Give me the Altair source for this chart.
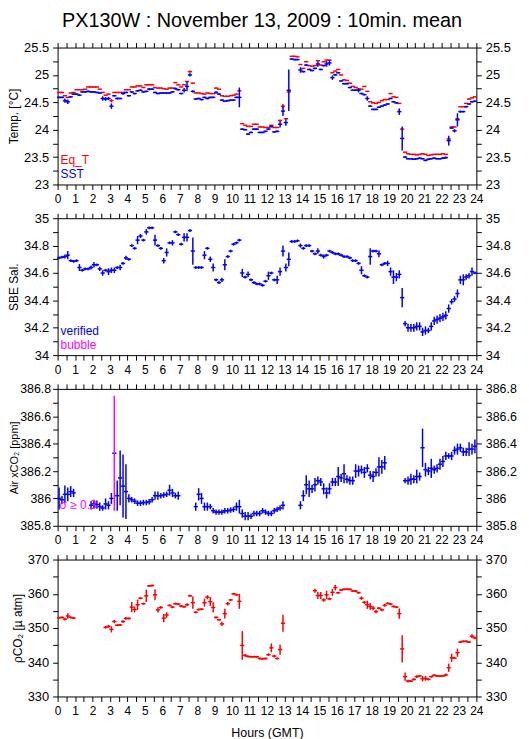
import altair as alt
import pandas as pd

FONT = "Liberation Sans"
TITLE = "PX130W : November 13, 2009 : 10min. mean"

# ---- 10-minute slots (144 per day), one row = 2 hours ----
SST = [
 24.59, 24.59, 24.53, 24.51, 24.60, 24.65, 24.65, 24.63, 24.69, 24.69, 24.70, 24.69,
 24.69, 24.68, 24.67, 24.57, 24.56, 24.57, 24.43, 24.62, 24.57, 24.57, 24.66, 24.68,
 24.62, 24.69, 24.66, 24.71, 24.72, 24.69, 24.70, 24.74, 24.74, 24.68, 24.66, 24.67,
 24.67, 24.67, 24.67, 24.69, 24.75, 24.73, 24.66, 24.72, 24.79, 25.00, 24.70, 24.56,
 24.57, 24.55, 24.59, 24.57, 24.59, 24.59, 24.68, 24.65, 24.54, 24.52, 24.53, 24.54,
 24.54, 24.59, 24.59, 24.01, 24.00, 23.92, 23.95, 24.01, 24.01, 23.95, 23.95, 23.97,
 24.01, 24.06, 23.96, 23.97, 24.10, 24.34, 24.13, 24.72, 25.29, 25.28, 25.28, 25.09,
 25.06, 25.18, 25.10, 25.08, 25.12, 25.20, 25.10, 25.17, 25.20, 25.22, 24.95, 25.00,
 25.04, 24.89, 24.84, 24.84, 24.77, 24.72, 24.72, 24.72, 24.66, 24.64, 24.57, 24.43,
 24.37, 24.37, 24.41, 24.43, 24.45, 24.47, 24.57, 24.51, 24.49, 24.33, 23.84, 23.50,
 23.47, 23.47, 23.46, 23.47, 23.48, 23.47, 23.44, 23.46, 23.47, 23.48, 23.47, 23.47,
 23.48, 23.49, 23.80, 24.03, 23.98, 24.18, 24.33, 24.33, 24.42, 24.47, 24.51, 24.52,
]
SST_ERR = [
 .015, .015, .04, .04, .015, .015, .015, .015, .015, .015, .015, .015,
 .015, .015, .015, .04, .035, .03, .05, .015, .02, .015, .02, .015,
 .015, .015, .015, .015, .015, .015, .015, .02, .015, .015, .015, .015,
 .015, .015, .015, .015, .02, .015, .015, .04, .09, .03, .02, .015,
 .015, .015, .015, .015, .015, .015, .02, .015, .015, .015, .015, .015,
 .015, .015, .18, .015, .015, .015, .015, .015, .015, .015, .015, .015,
 .015, .02, .015, .015, .06, .09, .06, .38, .015, .015, .015, .05,
 .015, .015, .015, .015, .015, .05, .015, .015, .05, .05, .04, .015,
 .015, .015, .015, .015, .015, .015, .015, .04, .015, .015, .04, .015,
 .015, .015, .015, .015, .015, .015, .015, .015, .015, .06, .22, .015,
 .015, .015, .015, .015, .015, .015, .015, .015, .015, .015, .015, .015,
 .015, .02, .09, .015, .03, .12, .02, .015, .015, .015, .015, .015,
]
EQT = [
 24.68, 24.68, 24.62, 24.59, 24.67, 24.68, 24.73, 24.73, 24.73, 24.74, 24.78, 24.78,
 24.78, 24.78, 24.74, 24.68, 24.63, 24.65, 24.53, 24.68, 24.68, 24.68, 24.68, 24.73,
 24.73, 24.78, 24.78, 24.80, 24.80, 24.77, 24.82, 24.82, 24.82, 24.77, 24.76, 24.76,
 24.75, 24.74, 24.76, 24.76, 24.86, 24.82, 24.78, 24.82, 24.88, 25.06, 24.85, 24.67,
 24.67, 24.66, 24.65, 24.67, 24.66, 24.66, 24.76, 24.74, 24.62, 24.61, 24.61, 24.62,
 24.63, 24.65, 24.71, 24.11, 24.08, 24.06, 24.06, 24.10, 24.10, 24.05, 24.05, 24.04,
 24.04, 24.08, 24.04, 24.04, 24.17, 24.43, 24.20, 24.69, 25.34, 25.34, 25.33, 25.19,
 25.12, 25.24, 25.17, 25.16, 25.17, 25.26, 25.18, 25.24, 25.27, 25.27, 25.04, 25.07,
 25.10, 25.00, 24.91, 24.90, 24.85, 24.79, 24.77, 24.74, 24.74, 24.79, 24.70, 24.51,
 24.49, 24.48, 24.50, 24.53, 24.55, 24.55, 24.66, 24.60, 24.59, 24.48, 24.01, 23.59,
 23.56, 23.55, 23.55, 23.54, 23.55, 23.56, 23.55, 23.53, 23.54, 23.55, 23.55, 23.55,
 23.56, 23.55, 23.83, 24.05, 24.05, 24.20, 24.42, 24.42, 24.48, 24.56, 24.58, 24.60,
]
EQT_ERR = [
 .005, .005, .005, .005, .005, .005, .005, .005, .005, .005, .005, .005,
 .005, .005, .005, .005, .005, .005, .03, .005, .005, .005, .005, .005,
 .005, .005, .005, .005, .005, .005, .005, .005, .005, .005, .005, .005,
 .005, .005, .005, .005, .005, .005, .005, .005, .005, .02, .005, .005,
 .005, .005, .005, .005, .005, .005, .005, .005, .005, .005, .005, .005,
 .005, .005, .005, .005, .005, .005, .005, .005, .005, .005, .005, .005,
 .005, .005, .005, .005, .005, .04, .005, .01, .005, .005, .005, .005,
 .005, .005, .005, .005, .005, .005, .005, .005, .005, .005, .005, .005,
 .005, .005, .005, .005, .005, .005, .005, .005, .005, .005, .005, .005,
 .005, .005, .005, .005, .005, .005, .005, .005, .005, .005, .02, .005,
 .005, .005, .005, .005, .005, .005, .005, .005, .005, .005, .005, .005,
 .005, .005, .005, .005, .005, .005, .005, .005, .005, .005, .005, .005,
]
SAL = [
 34.71, 34.715, 34.72, 34.73, 34.69, 34.685, 34.69, 34.64, 34.62, 34.63, 34.63, 34.64,
 34.66, 34.66, 34.63, 34.60, 34.62, 34.61, 34.62, 34.62, 34.64, 34.64, 34.67, 34.71,
 34.70, 34.80, 34.78, 34.84, 34.87, 34.84, 34.90, 34.93, 34.93, 34.84, 34.80, 34.78,
 34.69, 34.75, 34.82, 34.82, 34.90, 34.88, 34.81, 34.86, 34.86, 34.91, 34.76, 34.64,
 34.64, 34.64, 34.73, 34.78, 34.70, 34.64, 34.55, 34.53, 34.55, 34.66, 34.72, 34.76,
 34.81, 34.82, 34.84, 34.60, 34.57, 34.59, 34.55, 34.53, 34.52, 34.52, 34.51, 34.54,
 34.58, 34.60, 34.55, 34.55, 34.61, 34.76, 34.64, 34.70, 34.83, 34.83, 34.835, 34.80,
 34.78, 34.80, 34.80, 34.76, 34.74, 34.76, 34.73, 34.72, 34.73, 34.76, 34.75, 34.74,
 34.74, 34.73, 34.72, 34.72, 34.71, 34.69, 34.69, 34.67, 34.62, 34.58, 34.57, 34.72,
 34.76, 34.76, 34.74, 34.66, 34.67, 34.67, 34.61, 34.57, 34.57, 34.59, 34.42, 34.23,
 34.20, 34.20, 34.20, 34.21, 34.21, 34.17, 34.18, 34.18, 34.21, 34.25, 34.26, 34.27,
 34.28, 34.29, 34.34, 34.39, 34.41, 34.45, 34.55, 34.55, 34.57, 34.58, 34.61, 34.60,
]
SAL_ERR = [
 .01, .01, .015, .03, .01, .01, .01, .025, .01, .01, .01, .015,
 .02, .01, .015, .02, .01, .025, .02, .02, .01, .02, .01, .015,
 .01, .01, .01, .03, .015, .01, .02, .01, .01, .04, .01, .01,
 .02, .03, .01, .02, .01, .01, .01, .03, .03, .01, .10, .01,
 .01, .01, .03, .01, .02, .03, .01, .01, .015, .04, .01, .01,
 .01, .01, .01, .03, .01, .02, .01, .01, .01, .01, .01, .01,
 .03, .01, .01, .03, .03, .04, .03, .05, .01, .01, .01, .015,
 .01, .01, .01, .01, .01, .02, .01, .015, .01, .01, .01, .01,
 .01, .01, .01, .01, .01, .01, .01, .01, .03, .01, .01, .06,
 .01, .01, .025, .01, .01, .02, .03, .05, .03, .03, .07, .02,
 .03, .03, .03, .03, .03, .03, .03, .02, .03, .03, .03, .03,
 .03, .03, .03, .02, .02, .03, .03, .04, .02, .02, .03, .01,
]
CO2A = [
 386.00, 385.99, 386.03, 386.03, 386.05, 386.04, None, None, None, None, None, 385.95,
 385.96, 385.955, 385.94, 385.93, 385.96, 385.95, 386.00, 386.33, 386.02, 386.15, 386.09, 386.05,
 386.00, 385.99, 385.98, 385.965, 385.965, 385.97, 385.97, 385.975, 385.99, 386.02, 386.02, 386.02,
 386.025, 386.03, 386.06, 386.04, 386.02, 386.02, None, None, None, None, None, 385.94,
 386.03, 386.00, 385.94, 385.94, 385.94, 385.91, 385.90, 385.90, 385.90, 385.91, 385.91, 385.915,
 385.92, 385.94, 385.94, 385.89, 385.87, 385.87, 385.87, 385.89, 385.89, 385.89, 385.91, 385.90,
 385.89, 385.89, 385.91, 385.92, 385.93, 385.95, None, None, None, None, None, 385.95,
 386.02, 386.10, 386.07, 386.07, 386.10, 386.13, 386.12, 386.07, 386.04, 386.07, 386.12, 386.12,
 386.16, 386.15, 386.18, 386.14, 386.13, 386.13, 386.20, 386.20, 386.21, 386.19, 386.22, 386.17,
 386.16, 386.19, 386.23, 386.23, 386.26, None, None, None, None, None, None, 386.13,
 386.13, 386.14, 386.14, 386.16, 386.16, 386.37, 386.21, 386.20, 386.22, 386.21, 386.22, 386.25,
 386.27, 386.31, 386.31, 386.31, 386.35, 386.36, 386.37, 386.34, 386.34, 386.36, 386.36, 386.38,
]
CO2A_ERR = [
 .08, .03, .065, .05, .04, .03, 0, 0, 0, 0, 0, .03,
 .03, .03, .03, .02, .04, .03, .04, .42, .11, .20, .23, .20,
 .03, .02, .02, .02, .02, .02, .02, .02, .02, .03, .03, .02,
 .02, .02, .04, .03, .02, .03, 0, 0, 0, 0, 0, .03,
 .045, .04, .03, .03, .02, .02, .02, .02, .02, .02, .02, .02,
 .02, .03, .05, .03, .03, .03, .02, .02, .02, .02, .02, .02,
 .02, .02, .02, .02, .02, .03, 0, 0, 0, 0, 0, .03,
 .04, .07, .06, .03, .05, .03, .03, .04, .04, .04, .03, .03,
 .07, .03, .07, .03, .03, .03, .05, .04, .03, .04, .03, .03,
 .04, .03, .07, .05, .05, 0, 0, 0, 0, 0, 0, .02,
 .03, .04, .03, .05, .03, .14, .05, .03, .07, .03, .03, .04,
 .04, .03, .02, .03, .03, .04, .03, .03, .03, .05, .04, .05,
]
PCO2 = [
 353.0, 353.1, 352.6, 353.5, 353.1, 352.9, None, None, None, None, None, None,
 None, None, None, None, 350.2, 350.5, 349.6, 351.9, 350.8, 350.9, 351.9, 352.8,
 352.8, 356.1, 355.4, 356.8, 358.7, 357.1, 359.4, 362.3, 362.4, 359.7, 355.3, 356.0,
 352.9, 353.8, 356.6, 356.1, 357.1, 357.0, 356.4, 356.2, 356.8, 359.4, 357.4, 354.6,
 355.4, 355.5, 357.4, 359.0, 357.7, 356.0, 353.1, 352.4, 351.2, 354.2, 357.1, 358.2,
 360.0, 359.7, 357.8, 344.9, 342.0, 341.7, 341.6, 341.6, 341.6, 341.1, 341.0, 341.1,
 342.2, 344.2, 341.8, 341.1, 343.7, 351.4, None, None, None, None, None, None,
 None, None, None, None, 360.9, 359.5, 359.5, 358.2, 359.7, 358.5, 360.4, 361.8,
 360.3, 361.1, 361.3, 361.3, 361.3, 360.8, 360.8, 360.3, 358.7, 357.5, 356.8, 356.3,
 355.8, 354.8, 355.8, 355.3, 356.6, 357.2, 357.0, 356.3, 356.1, 354.2, 343.9, 335.8,
 334.5, 334.5, 335.0, 335.8, 336.0, 335.2, 335.3, 335.0, 335.8, 336.2, 336.0, 336.0,
 336.0, 336.3, 338.4, 341.3, 341.2, 342.8, 345.9, 346.1, 346.1, 345.9, 347.6, 347.1,
]
PCO2_ERR = [
 .3, .3, .4, .8, .3, .3, 0, 0, 0, 0, 0, 0,
 0, 0, 0, 0, .4, .4, .9, .5, .3, .3, .4, .4,
 .3, 1.5, .8, 1.5, .3, .3, 1.8, .3, .3, 1.6, .8, .4,
 1.2, .8, .3, .3, .3, .3, .3, .3, .4, .3, 1.8, .3,
 .3, .3, 1.2, .6, 1.3, 1.5, .3, .3, .6, 1.4, .5, .3,
 .3, .3, 2.2, 4.2, .4, .3, .3, .3, .3, .3, .3, .3,
 .4, 1.3, .4, .3, 1.5, 2.5, 0, 0, 0, 0, 0, 0,
 0, 0, 0, 0, .6, 1.0, 1.0, .5, 1.2, .4, 1.0, .8,
 .3, .3, .3, .3, .3, .3, .3, .3, .5, .4, 1.2, 1.0,
 .6, .5, .3, .4, .4, .3, .3, .3, .3, 1.5, 4.0, 1.2,
 .4, .3, .3, .4, .3, .8, .7, .3, .3, .3, .3, .3,
 .3, .4, 1.2, 1.2, .3, 1.2, .3, .3, .3, .3, .6, .4,
]

HALF = 0.12          # half width of the 10-min horizontal dash (hours)
X_TICKS = [i * 0.5 for i in range(49)]


def frame(vals, errs, series, flag_name=None, flag_min=None):
    rows = []
    for k, (v, e) in enumerate(zip(vals, errs)):
        if v is None:
            continue
        t = (k + 0.5) / 6.0
        s = series
        if flag_name is not None and e >= flag_min:
            s = flag_name
        rows.append(dict(t=t, lo=t - HALF, hi=t + HALF, v=v, vlo=v - e, vhi=v + e,
                         s=s, hs=series))
    return pd.DataFrame(rows)


def label(text, color, py, px=3):
    return alt.Chart(pd.DataFrame({"txt": [text]})).mark_text(
        align="left", baseline="alphabetic", font=FONT, fontSize=12, color=color
    ).encode(x=alt.value(px), y=alt.value(py), text="txt:N")


def panel(df, domain, ticks, step, ytitle, cdom, crange, texts, xtitle=None,
          ylab_size=13, ylab_pad=4, ytitle_size=12, ytitle_pad=3):
    xs = alt.Scale(domain=[0, 24], nice=False, zero=False)
    ys = alt.Scale(domain=domain, nice=False, zero=False)
    ylab = (f"abs(datum.value/{step} - round(datum.value/{step})) < 0.001"
            " ? format(datum.value, '~g') : ''")
    xlab = "datum.value % 1 == 0 ? format(datum.value, 'd') : ''"
    cscale = alt.Scale(domain=cdom, range=crange)
    common = dict(labelOverlap=False, labelFlush=False)
    hbar = alt.Chart(df).mark_rule(strokeWidth=1.5).encode(
        x=alt.X("lo:Q", scale=xs, title=xtitle,
                axis=alt.Axis(orient="bottom", values=X_TICKS, labelExpr=xlab,
                              labelFontSize=12, titleFontSize=12.5, titlePadding=10,
                              **common)),
        x2=alt.X2("hi"),
        y=alt.Y("v:Q", scale=ys, title=ytitle,
                axis=alt.Axis(orient="left", values=ticks, labelExpr=ylab,
                              labelFontSize=ylab_size, labelPadding=ylab_pad,
                              titleFontSize=ytitle_size, titlePadding=ytitle_pad, **common)),
        color=alt.Color("hs:N", scale=cscale, legend=None),
    )
    vbar = alt.Chart(df).mark_rule(strokeWidth=1.5).encode(
        x=alt.X("t:Q", scale=xs, title=None,
                axis=alt.Axis(orient="top", values=X_TICKS, labels=False)),
        y=alt.Y("vlo:Q", scale=ys, title=None,
                axis=alt.Axis(orient="right", values=ticks, labelExpr=ylab,
                              labelFontSize=ylab_size, **common)),
        y2=alt.Y2("vhi"),
        color=alt.Color("s:N", scale=cscale, legend=None),
    )
    return alt.layer(hbar, vbar, *texts).resolve_axis(
        x="independent", y="independent"
    ).properties(width=422, height=138)


BLUE, RED, MAG = "#0000ff", "#ff0000", "#ff00ff"

df1 = pd.concat([frame(EQT, EQT_ERR, "Eq_T"), frame(SST, SST_ERR, "SST")], ignore_index=True)
df2 = frame(SAL, SAL_ERR, "verified")
df3 = frame(CO2A, CO2A_ERR, "normal", flag_name="sigma", flag_min=0.3)
df4 = frame(PCO2, PCO2_ERR, "pco2")

p1 = panel(df1, [23, 25.5], [23 + 0.25 * i for i in range(11)], 0.5, "Temp. [°C]",
           ["Eq_T", "SST"], [RED, BLUE],
           [label("Eq_T", RED, 117), label("SST", BLUE, 131)])
p2 = panel(df2, [34, 35], [round(34 + 0.1 * i, 2) for i in range(11)], 0.2, "SBE Sal.",
           ["verified", "bubble"], [BLUE, MAG],
           [label("verified", BLUE, 118), label("bubble", MAG, 132)])
p3 = panel(df3, [385.8, 386.8], [round(385.8 + 0.1 * i, 2) for i in range(11)], 0.2,
           "Air xCO₂ [ppm]", ["normal", "sigma"], [BLUE, MAG],
           [label("σ ≥ 0.3", MAG, 121, px=2)],
           ylab_size=12.5, ylab_pad=2, ytitle_size=11, ytitle_pad=0)
p4 = panel(df4, [330, 370], [330 + 5 * i for i in range(9)], 10, "ρCO₂ [µ atm]",
           ["pco2"], [RED], [], xtitle="Hours (GMT)")

chart = alt.vconcat(p1, p2, p3, p4, spacing=34, bounds="flush").resolve_scale(
    color="independent"
).properties(
    title=alt.TitleParams(TITLE, font=FONT, fontSize=20, fontWeight="normal",
                          color="black", anchor="middle", offset=11),
    padding={"left": 50, "top": 37, "right": 45, "bottom": 694},
    autosize=alt.AutoSizeParams(type="none"),
).configure_view(stroke=None).configure_axis(
    labelFont=FONT, titleFont=FONT, labelFontSize=13, titleFontSize=12,
    titleFontWeight="normal", labelColor="black", titleColor="black",
    domainColor="black", tickColor="black", tickSize=5, labelPadding=4,
    titlePadding=3, grid=False, domainWidth=1, tickWidth=1,
)

chart.save("out.html", embed_options={"renderer": "svg", "actions": False})
